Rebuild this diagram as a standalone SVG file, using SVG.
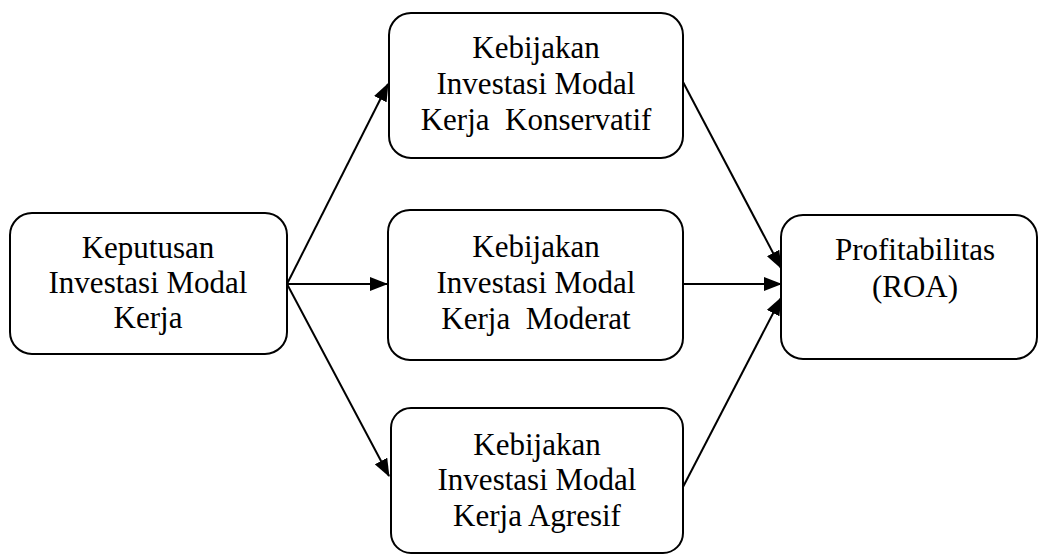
<svg xmlns="http://www.w3.org/2000/svg" width="1040" height="555" viewBox="0 0 1040 555">
<defs>
<style>
.box{fill:#fff;stroke:#000;stroke-width:2}
.t{font-family:"Liberation Serif","Times New Roman",serif;font-size:31px;fill:#000;text-anchor:middle;white-space:pre}
.c{stroke:#000;stroke-width:2;fill:none;marker-end:url(#ah)}
</style>
<marker id="ah" markerUnits="userSpaceOnUse" markerWidth="18" markerHeight="14" viewBox="0 0 18 14" refX="17" refY="7" orient="auto">
<path d="M0,0 L18,7 L0,14 Z" fill="#000"/>
</marker>
</defs>
<rect width="1040" height="555" fill="#fff"/>
<g id="connectors">
<line class="c" x1="287" y1="284" x2="388" y2="84"/>
<line class="c" x1="287" y1="284" x2="387" y2="284"/>
<line class="c" x1="287" y1="284" x2="389" y2="476"/>
<line class="c" x1="683" y1="82" x2="781" y2="268"/>
<line class="c" x1="683" y1="284" x2="781" y2="284"/>
<line class="c" x1="683" y1="487" x2="781" y2="298"/>
</g>
<g id="node-keputusan">
<rect class="box" x="10" y="213" width="277" height="141" rx="22"/>
<text class="t" x="148" y="258">Keputusan</text>
<text class="t" x="148" y="293">Investasi Modal</text>
<text class="t" x="148" y="328">Kerja</text>
</g>
<g id="node-konservatif">
<rect class="box" x="389" y="13" width="294" height="145" rx="22"/>
<text class="t" x="536" y="58">Kebijakan</text>
<text class="t" x="536" y="94">Investasi Modal</text>
<text class="t" x="536" y="130">Kerja  Konservatif</text>
</g>
<g id="node-moderat">
<rect class="box" x="388" y="210" width="295" height="150" rx="22"/>
<text class="t" x="536" y="257">Kebijakan</text>
<text class="t" x="536" y="293">Investasi Modal</text>
<text class="t" x="536" y="329">Kerja  Moderat</text>
</g>
<g id="node-agresif">
<rect class="box" x="391" y="408" width="292" height="145" rx="20"/>
<text class="t" x="537" y="455">Kebijakan</text>
<text class="t" x="537" y="490">Investasi Modal</text>
<text class="t" x="537" y="526">Kerja Agresif</text>
</g>
<g id="node-profitabilitas">
<rect class="box" x="781" y="215" width="256" height="144" rx="22"/>
<text class="t" x="915" y="260">Profitabilitas</text>
<text class="t" x="915" y="297">(ROA)</text>
</g>
</svg>
